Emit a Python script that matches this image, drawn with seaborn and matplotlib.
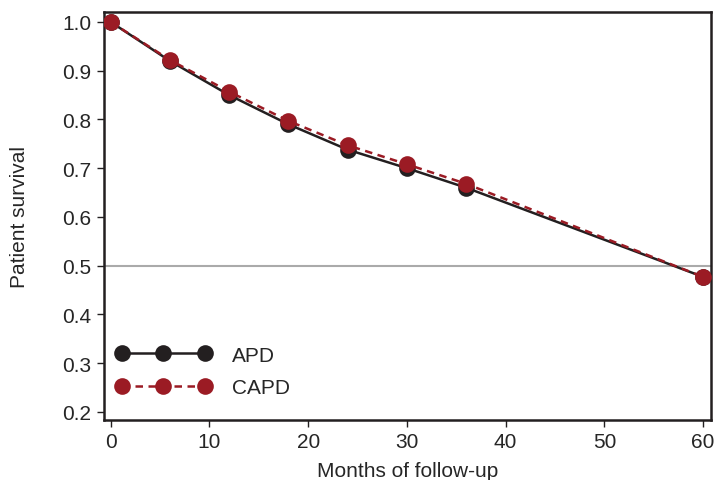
import pandas as pd
import matplotlib
matplotlib.use('Agg')
import matplotlib.pyplot as plt
import seaborn as sns

months = [0, 6, 12, 18, 24, 30, 36, 60]
apd = [1.0, 0.920, 0.850, 0.790, 0.738, 0.700, 0.660, 0.477]
capd = [1.0, 0.922, 0.857, 0.797, 0.747, 0.708, 0.668, 0.477]
groups = ['APD', 'CAPD']

df = pd.DataFrame({
    'month': months * 2,
    'survival': apd + capd,
    'group': [groups[0]] * len(months) + [groups[1]] * len(months),
})

sns.set_style('ticks')
plt.rcParams['font.family'] = ['Liberation Sans', 'DejaVu Sans']

fig, ax = plt.subplots(figsize=(7.16, 4.81), dpi=100)
fig.subplots_adjust(left=0.145, right=0.993, top=0.973, bottom=0.125)

# reference line at median survival
ax.axhline(0.5, color='#aaaaaa', lw=1.5, zorder=1)

sns.lineplot(data=df, x='month', y='survival', hue='group', style='group',
             palette={'APD': '#231f20', 'CAPD': '#9b1b24'},
             dashes={'APD': '', 'CAPD': (3, 2.2)},
             markers={'APD': 'o', 'CAPD': 'o'}, markersize=12,
             markeredgewidth=0, lw=1.8, ax=ax, zorder=3)

ax.set_xlim(-0.7, 60.8)
ax.set_ylim(0.1836, 1.0205)
ax.set_xticks([0, 10, 20, 30, 40, 50, 60])
ax.set_yticks([0.2, 0.3, 0.4, 0.5, 0.6, 0.7, 0.8, 0.9, 1.0])
ax.tick_params(labelsize=15, length=5, width=1, color='#231f20', pad=4)
ax.set_xlabel('Months of follow-up', fontsize=15, labelpad=7)
ax.set_ylabel('Patient survival', fontsize=15, labelpad=24)
for s in ax.spines.values():
    s.set_linewidth(1.8)
    s.set_color('#231f20')

leg = ax.legend(loc='lower left', frameon=False, fontsize=15, numpoints=3,
                handlelength=4.6, handletextpad=1.0, labelspacing=0.65,
                borderaxespad=0.3, bbox_to_anchor=(-0.005, 0.02))

plt.savefig('out.png')
